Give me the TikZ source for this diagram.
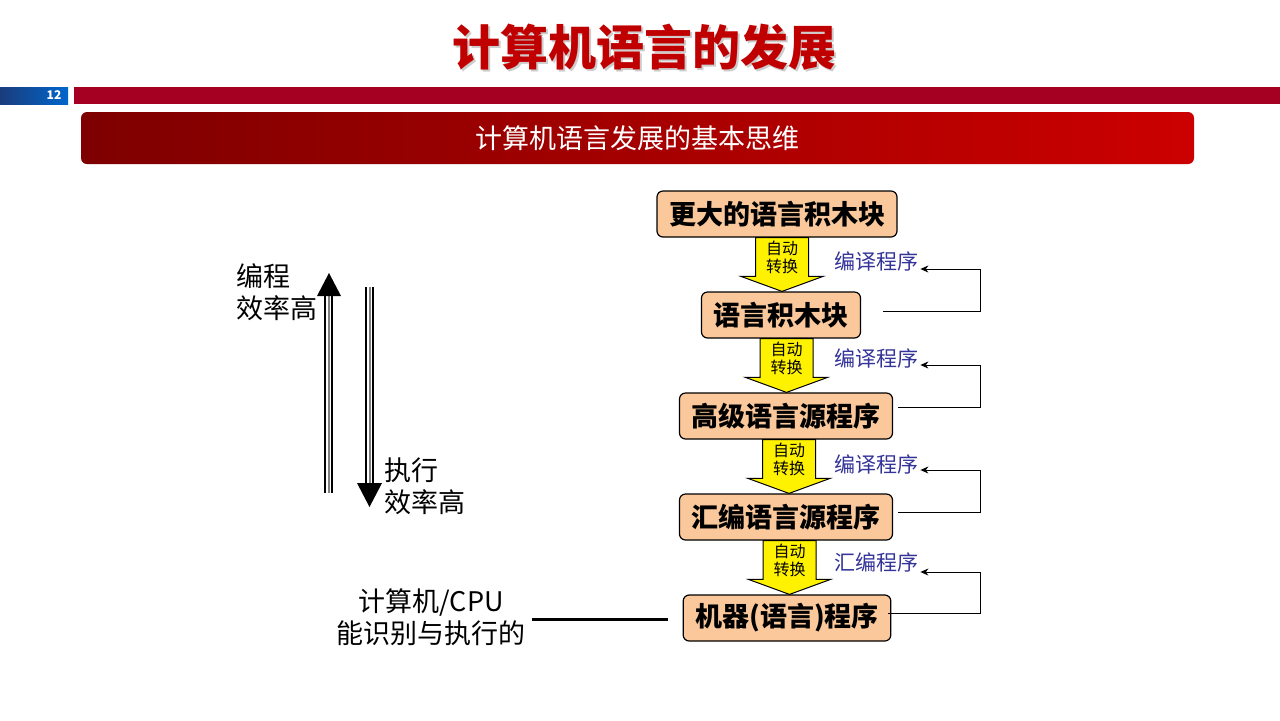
\documentclass[tikz,border=0pt]{standalone}
\usepackage{fontspec}
\setmainfont{Noto Sans CJK SC}
\usetikzlibrary{calc,arrows.meta,positioning}
\definecolor{titlered}{HTML}{C00000}
\definecolor{barred}{HTML}{A50021}
\definecolor{peach}{HTML}{FAC89B}
\definecolor{labelblue}{HTML}{333399}
\definecolor{navy}{HTML}{1A3C7C}
\definecolor{brightblue}{HTML}{0066CC}
\definecolor{darkred}{HTML}{7E0000}
\definecolor{lightred}{HTML}{CC0000}
\tikzset{langbox/.style={draw,fill=peach,rounded corners=3pt,line width=0.6pt,
    minimum height=23pt,inner xsep=6pt,font=\fontsize{13.5}{16}\selectfont\bfseries}}
\tikzset{convarrow/.style={draw,fill=yellow,line width=0.5pt}}
\tikzset{convtext/.style={align=center,inner sep=0pt,font=\fontsize{8}{9}\selectfont}}
\tikzset{translator/.style={text=labelblue,inner sep=1pt,font=\fontsize{10.5}{12}\selectfont}}
\tikzset{feedback/.style={-{Stealth[length=4pt,width=3.5pt]},line width=0.5pt}}
\tikzset{side/.style={inner sep=0pt,font=\fontsize{13.5}{16}\selectfont}}
% yellow block arrow from #1 down to #2
\newcommand\convert[2]{%
  \draw[convarrow] let \p1=($(#1.south)!.5!(#2.north)+(1.5pt,0)$),
    \p2=(#1.south), \p3=(#2.north) in
    (\x1-13.25pt,\y2) -- (\x1+13.25pt,\y2) -- (\x1+13.25pt,\y3+7.5pt)
    -- (\x1+20.5pt,\y3+7.5pt) -- (\x1,\y3) -- (\x1-20.5pt,\y3+7.5pt)
    -- (\x1-13.25pt,\y3+7.5pt) -- cycle
    (\x1,{(\y2+\y3)/2+3.75pt}) node[convtext]{自动\\转换};}

\begin{document}
\begin{tikzpicture}[x=0.5pt,y=-0.5pt,node distance=50.5pt]
        \useasboundingbox (0,0) rectangle (1280,720);
        \fill[white] (0,0) rectangle (1280,720);
        % header
        \node[text=gray!40,font=\fontsize{24}{28}\selectfont\bfseries] (shadow) at (646.5,49.5) {计算机语言的发展};
        \node[text=titlered,font=\fontsize{24}{28}\selectfont\bfseries] (title) at (644,47) {计算机语言的发展};
        \shade[left color=navy,right color=brightblue] (0,87) rectangle (68,104);
        \node[text=white,inner sep=0pt,font=\fontsize{6}{7}\selectfont\bfseries] (page) at (54,95.5) {12};
        \fill[barred] (74,87) rectangle (1280,104);
        \shade[rounded corners=3pt,left color=darkred,right color=lightred] (81,112) rectangle (1194,164);
        \node[text=white,font=\fontsize{13.5}{16}\selectfont] (theme) at (637,138) {计算机语言发展的基本思维};
        % language levels
        \node[langbox] (bigger) at (777,214) {更大的语言积木块};
        \node[langbox] (blocks) [below of=bigger,xshift=2pt] {语言积木块};
        \node[langbox] (high) [below of=blocks,xshift=2.5pt] {高级语言源程序};
        \node[langbox] (asm) [below of=high] {汇编语言源程序};
        \node[langbox] (machine) [below of=asm,xshift=0.5pt] {机器(语言)程序};
        \convert{bigger}{blocks}
        \convert{blocks}{high}
        \convert{high}{asm}
        \convert{asm}{machine}
        % translators
        \node[translator] (comp1) at (876,261) {编译程序};
        \node[translator] (comp2) at (876,358) {编译程序};
        \node[translator] (comp3) at (876,464) {编译程序};
        \node[translator] (assembler) at (876,562) {汇编程序};
        \coordinate (r) at (980,0);
        \coordinate (s1) at (883,311);
        \coordinate (s2) at (898,407);
        \coordinate (s3) at (898,512);
        \coordinate (s4) at (888,613);
        \draw[feedback] (s1) -- (s1 -| r) |- ([yshift=-4pt]comp1.east);
        \draw[feedback] (s2) -- (s2 -| r) |- ([yshift=-3.5pt]comp2.east);
        \draw[feedback] (s3) -- (s3 -| r) |- ([yshift=-3pt]comp3.east);
        \draw[feedback] (s4) -- (s4 -| r) |- ([yshift=-5pt]assembler.east);
        % efficiency arrows
        \foreach \w/\c in {4.2pt/black,2.8pt/white,1pt/gray}{
          \draw[line width=\w,draw=\c] (328.5,493) -- (328.5,296);
          \draw[line width=\w,draw=\c] (369.5,287) -- (369.5,484);}
        \fill (317,296) -- (341,296) -- (329,273) -- cycle;
        \fill (357,483) -- (382,483) -- (369.5,507) -- cycle;
        \node[side,align=left,anchor=west] (prog) at (236,292) {编程\\效率高};
        \node[side,align=left,anchor=west] (exec) at (384,486) {执行\\效率高};
        % what the CPU runs
        \node[side,align=center,inner sep=3pt] (cpu) at (431,617) {计算机/CPU\\能识别与执行的};
        \coordinate (cpuend) at (668,619);
        \draw[line width=1.5pt] (cpu.east |- cpuend) -- (cpuend);
      \end{tikzpicture}
\end{document}
